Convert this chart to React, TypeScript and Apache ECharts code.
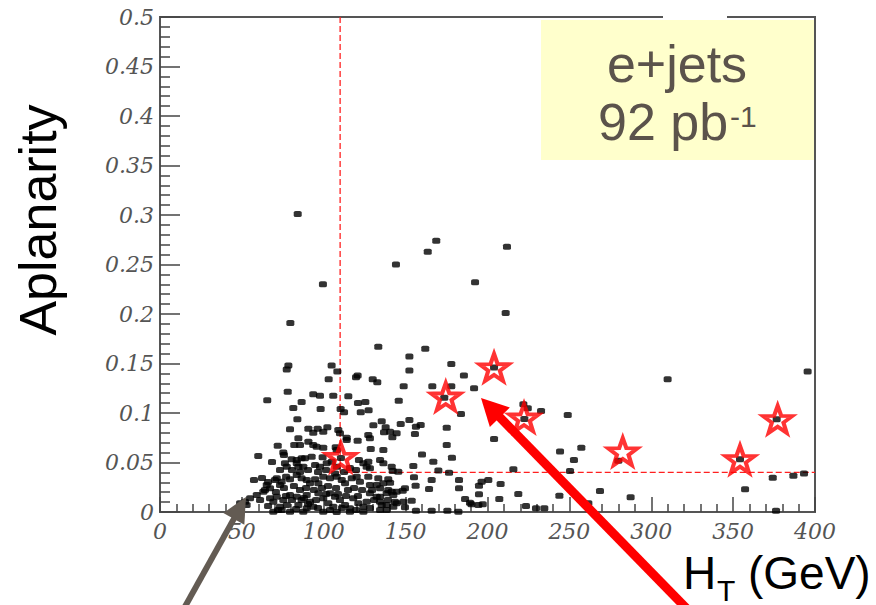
import React, { useEffect, useRef } from "react";
import * as echarts from "echarts";

// H_T (GeV), Aplanarity — all e+jets events (black)
const eventsHT: number[] = [
  84.1, 168.7, 163.5, 211.9, 144.1, 192.4, 99.5, 211.1, 79.6, 133.3, 162, 152.3, 177.9, 78.4, 77.4, 104.8, 108.3, 152.3, 185.6, 120.7,
  119.7, 103, 129.9, 132.7, 310, 395.5, 148.8, 166.3, 177.9, 191.8, 78, 93.6, 97.7, 105.8, 115, 173.6, 204, 65.5, 86.5, 120.9,
  125.4, 145.8, 221.9, 224.6, 232.7, 183.8, 249, 222.5, 81.4, 98.1, 110.3, 112.4, 122.6, 127.4, 83.9, 135.4, 147, 152.3, 130.3, 79.4,
  90.6, 96.3, 102.2, 108.9, 137.8, 156.3, 159.2, 155.7, 175.1, 136.8, 141.9, 204, 175.1, 160, 178.3, 166.9, 154.7, 170, 176.5, 244.3,
  257.3, 252.8, 279.9, 215.8, 250.4, 142.1, 139.4, 140.5, 165.9, 182.6, 200.5, 196.4, 208, 149.6, 148.2, 164.3, 182.6, 194.8, 194.8, 218.8,
  243.9, 268.7, 287.4, 207.2, 186.3, 189.3, 197.1, 223.5, 229.6, 234.7, 261.6, 357.3, 374.2, 386.8, 393.3, 376.2, 376.6, 354.2, 155.1, 156.1,
  141.5, 142.5, 144.5, 148.6, 153.7, 149.6, 156.3, 165.9, 175.5, 182.2, 190.2, 194.4, 135.4, 138.4, 134.4, 138.4, 93.6, 99.7, 109.9, 140.5,
  144.5, 127.2, 128.2, 114, 114, 120.7, 71.9, 84.5, 85.5, 90.6, 93.6, 95.7, 99.7, 107.3, 107.9, 82, 128.7, 136.4, 75.3, 75.7,
  60, 92.6, 80.4, 83.5, 86.5, 88.5, 99.3, 110.5, 121.5, 124.2, 127.2, 134.4, 76.3, 77.4, 83.5, 84.5, 87.5, 94.7, 97.7, 101.8,
  104.9, 107.9, 126.2, 128.2, 136.4, 141.5, 145.5, 57.4, 65.2, 67.2, 64.1, 71.3, 74.3, 77, 79.4, 83.5, 86.5, 89.6, 91.6, 94.7,
  96.7, 99.7, 103.8, 106.9, 107.9, 111, 113, 117.1, 120.1, 122.1, 127.2, 128.2, 133.3, 136.4, 132.3, 134.4, 139.4, 144.5, 55, 59.1,
  61.1, 67.2, 69.2, 71.3, 75.3, 77.4, 73.3, 79.4, 83.5, 86.5, 84.5, 89.6, 91.6, 93.6, 89.6, 96.7, 99.7, 102.8, 105.8, 103.8,
  106.9, 109.9, 113, 116, 118, 121.1, 124.2, 126.2, 128.2, 132.3, 134.4, 138.4, 142.5, 143.5, 48.9, 52.9, 87.5, 99.7, 107.9, 116,
  124.2, 69.2, 74.3, 79.4, 70.2, 73.3, 63.1, 51.9,
  68.4, 73.3, 80.6, 85.5, 90.4, 96.5, 101.4, 112.4, 116, 119.7, 62.3, 66, 75.7, 81.8, 85.5, 89.2, 94, 98.9, 102.6, 107.5,
  114.8, 118.5, 123.4, 129.5, 70.8, 76.9, 80.6, 87.9, 95.3, 101.4, 108.7, 113.6, 120.9, 130.7, 66, 72.1, 83.1, 90.4, 96.5, 103.8,
  111.1, 119.7, 128.2, 134.4, 139.2,
];
const eventsAplan: number[] = [
  0.301, 0.274, 0.263, 0.268, 0.25, 0.232, 0.23, 0.201, 0.191, 0.167, 0.165, 0.157, 0.1495, 0.148, 0.144, 0.148, 0.142, 0.143, 0.138, 0.138,
  0.136, 0.134, 0.134, 0.131, 0.134, 0.142, 0.127, 0.127, 0.127, 0.125, 0.1215, 0.119, 0.1175, 0.1175, 0.117, 0.1155, 0.146, 0.113, 0.111, 0.11,
  0.111, 0.1125, 0.1088, 0.1047, 0.102, 0.099, 0.098, 0.094, 0.105, 0.104, 0.104, 0.1007, 0.1007, 0.1027, 0.0936, 0.0916, 0.0889, 0.093, 0.0876, 0.0835,
  0.084, 0.084, 0.0855, 0.0828, 0.0855, 0.086, 0.0879, 0.0788, 0.0852, 0.0805, 0.0754, 0.0737, 0.0677, 0.058, 0.0549, 0.0508, 0.0465, 0.0418, 0.0397, 0.061,
  0.065, 0.0525, 0.0518, 0.0431, 0.0414, 0.0414, 0.033, 0.0296, 0.0323, 0.0323, 0.0323, 0.0306, 0.0283, 0.024, 0.0215, 0.0232, 0.024, 0.0266, 0.0179, 0.0182,
  0.0165, 0.0212, 0.0148, 0.0131, 0.0131, 0.0094, 0.0078, 0.006, 0.0037, 0.0037, 0.0088, 0.0229, 0.0347, 0.0367, 0.039, 0.0013, 0.0936, 0.0532, 0.035, 0.0266,
  0.0205, 0.0172, 0.0088, 0.0104, 0.0114, 0.0047, 0.0013, 0.0013, 0.0013, 0.0003, 0.0078, 0.0071, 0.0071, 0.002, 0.0155, 0.0189, 0.08, 0.081, 0.0795, 0.081,
  0.0795, 0.0778, 0.0744, 0.075, 0.0727, 0.072, 0.067, 0.0745, 0.0677, 0.071, 0.0677, 0.066, 0.065, 0.0653, 0.0626, 0.0677, 0.0636, 0.0626, 0.06, 0.0576,
  0.0566, 0.0559, 0.0532, 0.0525, 0.0542, 0.0542, 0.0552, 0.0545, 0.0525, 0.0492, 0.0508, 0.0525, 0.0492, 0.0458, 0.0492, 0.0458, 0.0458, 0.0475, 0.0458, 0.0492,
  0.0508, 0.0458, 0.0458, 0.0441, 0.0492, 0.0458, 0.0407, 0.0323, 0.0273, 0.024, 0.0222, 0.034, 0.0306, 0.0357, 0.033, 0.0374, 0.034, 0.0323, 0.029, 0.033,
  0.029, 0.0357, 0.034, 0.039, 0.0357, 0.0323, 0.029, 0.034, 0.0357, 0.0306, 0.0357, 0.0273, 0.034, 0.029, 0.0273, 0.024, 0.0222, 0.0205, 0.0138, 0.0172,
  0.0121, 0.0138, 0.0104, 0.0155, 0.0121, 0.0071, 0.0054, 0.0172, 0.0155, 0.0121, 0.0071, 0.0172, 0.0104, 0.0054, 0.0037, 0.0189, 0.0138, 0.0088, 0.0054, 0.0189,
  0.0155, 0.0121, 0.0071, 0.0037, 0.0138, 0.0088, 0.0054, 0.0104, 0.0189, 0.0155, 0.0104, 0.0071, 0.0054, 0.0104, 0.0088, 0.0071, 0.0003, 0.0003, 0.0, 0.0003,
  0.0003, 0.0003, 0.002, 0.0003, 0.0323, 0.0273, 0.0205, 0.0104,
  0.0505, 0.0424, 0.0424, 0.0404, 0.0424, 0.0404, 0.0424, 0.0404, 0.0444, 0.0424, 0.0343, 0.0303, 0.0242, 0.0263, 0.0222, 0.0242, 0.0222, 0.0242, 0.0263, 0.0242,
  0.0222, 0.0242, 0.0222, 0.0222, 0.0202, 0.0162, 0.0121, 0.0141, 0.0121, 0.0182, 0.0182, 0.0162, 0.0162, 0.0121, 0.0061, 0.002, 0.003, 0.0081, 0.004, 0.002,
  0.004, 0.002, 0.004, 0.002, 0.0121,
];

// Highlighted candidate events (red stars)
const starHT: number[] = [110.4, 174.5, 204, 222.3, 282.6, 354.2, 377.2];
const starAplan: number[] = [0.0555, 0.1165, 0.146, 0.0953, 0.061, 0.0532, 0.0936];

// Selection cuts (dashed red lines)
const cutHT = 110;
const cutAplan = 0.04;

// Axis ranges
const xMin = 0, xMax = 400, xStep = 50;
const yMin = 0, yMax = 0.5, yStep = 0.05;

const STAR =
  "path://M50,0L61.76,33.82L97.55,34.55L69.02,56.18L79.39,90.45L50,70L20.61,90.45L30.98,56.18L2.45,34.55L38.24,33.82Z";

function arrowHead(tip: number[], tail: number[], len: number, half: number) {
  const dx = tail[0] - tip[0];
  const dy = tail[1] - tip[1];
  const L = Math.hypot(dx, dy);
  const ux = dx / L, uy = dy / L;
  const bx = tip[0] + ux * len, by = tip[1] + uy * len;
  const nx = -uy, ny = ux;
  return {
    points: [tip, [bx + nx * half, by + ny * half], [bx - nx * half, by - ny * half]],
    base: [tip[0] + ux * (len - 2), tip[1] + uy * (len - 2)],
  };
}

export default function App() {
  const ref = useRef<HTMLDivElement>(null);
  useEffect(() => {
    if (!ref.current) return;
    const chart = echarts.init(ref.current, undefined, { renderer: "svg" });
    const events = eventsHT.map((x, i) => [x, eventsAplan[i]]);
    const stars = starHT.map((x, i) => [x, starAplan[i]]);

    const redTip = [481, 398], redTail = [690, 612];
    const grayTip = [246, 497], grayTail = [182, 612];
    const rh = arrowHead(redTip, redTail, 27, 14);
    const gh = arrowHead(grayTip, grayTail, 25, 12);

    const labelFont = {
      fontFamily: "DejaVu Serif",
      fontStyle: "italic" as const,
      fontSize: 22,
      color: "#555",
    };
    const textColor = "#5b534b";

    chart.setOption({
      animation: false,
      backgroundColor: "#fff",
      grid: {
        left: 160, top: 17, width: 655, height: 495,
        show: true, borderColor: "#555", borderWidth: 2, backgroundColor: "transparent",
      },
      xAxis: {
        type: "value", min: xMin, max: xMax, interval: xStep,
        axisLine: { show: true, onZero: false, lineStyle: { color: "#555", width: 2 } },
        axisTick: { show: true, inside: true, length: 15, lineStyle: { color: "#444", width: 1.5 } },
        minorTick: { show: true, splitNumber: 5, length: 8, lineStyle: { color: "#444", width: 1.5 } },
        splitLine: { show: false },
        axisLabel: { ...labelFont, margin: 8 },
      },
      yAxis: {
        type: "value", min: yMin, max: yMax, interval: yStep,
        axisLine: { show: true, onZero: false, lineStyle: { color: "#555", width: 2 } },
        axisTick: { show: true, inside: true, length: 20, lineStyle: { color: "#444", width: 1.5 } },
        minorTick: { show: true, splitNumber: 5, length: 10, lineStyle: { color: "#444", width: 1.5 } },
        splitLine: { show: false },
        axisLabel: {
          ...labelFont, margin: 6,
          formatter: (v: number) => String(Number(v.toFixed(2))),
        },
      },
      series: [
        {
          type: "line",
          data: [[cutHT, yMax], [cutHT, cutAplan], [xMax, cutAplan]],
          symbol: "none",
          lineStyle: { color: "#ff2020", width: 1.3, type: [6, 3] },
          z: 1,
        },
        {
          type: "scatter",
          data: events,
          symbol: "roundRect",
          symbolSize: [8, 6],
          itemStyle: { color: "#000" },
          z: 2,
        },
        {
          type: "scatter",
          data: stars,
          symbol: STAR,
          symbolSize: [29, 27],
          itemStyle: { color: "rgba(255,255,255,0)", borderColor: "#ff0000", borderWidth: 4 },
          z: 3,
        },
      ],
      graphic: [
        { type: "rect", z: 100, shape: { x: 663, y: 10, width: 64, height: 10 }, style: { fill: "#fff" } },
        { type: "rect", z: 100, shape: { x: 541, y: 20, width: 273, height: 140 }, style: { fill: "#ffffcc" } },
        {
          type: "text", z: 101, x: 677, y: 64,
          style: { text: "e+jets", font: "52px 'Liberation Sans'", fill: textColor, align: "center", verticalAlign: "middle" },
        },
        {
          type: "text", z: 101, x: 598, y: 122,
          style: { text: "92 pb", font: "52px 'Liberation Sans'", fill: textColor, align: "left", verticalAlign: "middle" },
        },
        {
          type: "text", z: 101, x: 730, y: 116,
          style: { text: "-1", font: "30px 'Liberation Sans'", fill: textColor, align: "left", verticalAlign: "middle" },
        },
        {
          type: "text", z: 101, x: 38, y: 220, rotation: Math.PI / 2,
          style: { text: "Aplanarity", font: "52px 'Liberation Sans'", fill: "#000", align: "center", verticalAlign: "middle" },
        },
        {
          type: "text", z: 101, x: 683, y: 573,
          style: { text: "H", font: "46px 'Liberation Sans'", fill: "#000", align: "left", verticalAlign: "middle" },
        },
        {
          type: "text", z: 101, x: 717, y: 590,
          style: { text: "T", font: "30px 'Liberation Sans'", fill: "#000", align: "left", verticalAlign: "middle" },
        },
        {
          type: "text", z: 101, x: 748, y: 573,
          style: { text: "(GeV)", font: "46px 'Liberation Sans'", fill: "#000", align: "left", verticalAlign: "middle" },
        },
        {
          type: "line", z: 110,
          shape: { x1: rh.base[0], y1: rh.base[1], x2: redTail[0], y2: redTail[1] },
          style: { stroke: "#ff0000", lineWidth: 9 },
        },
        { type: "polygon", z: 110, shape: { points: rh.points }, style: { fill: "#ff0000" } },
        {
          type: "line", z: 110,
          shape: { x1: gh.base[0], y1: gh.base[1], x2: grayTail[0], y2: grayTail[1] },
          style: { stroke: "#635b53", lineWidth: 6 },
        },
        { type: "polygon", z: 110, shape: { points: gh.points }, style: { fill: "#635b53" } },
      ],
    });
    return () => chart.dispose();
  }, []);
  return (
    <div
      ref={ref}
      style={{ position: "absolute", left: 0, top: 0, width: 876, height: 605 }}
    />
  );
}
